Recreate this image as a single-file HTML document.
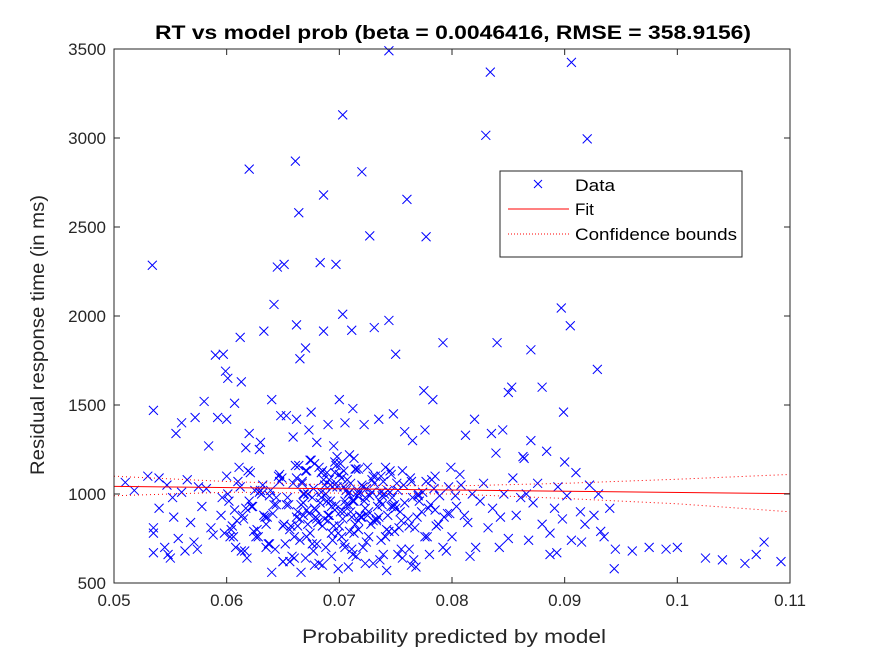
<!DOCTYPE html>
<html><head><meta charset="utf-8"><style>
body{margin:0;background:#fff;}
svg{display:block;font-family:"Liberation Sans",Arial,sans-serif;}
</style></head><body>
<svg id="c" width="875" height="656" viewBox="0 0 875 656">
<rect width="875" height="656" fill="#fff"/>
<g id="plot"></g>
<text x="155" y="39" textLength="596" lengthAdjust="spacingAndGlyphs" font-size="19.5" font-weight="bold" fill="#000">RT vs model prob (beta = 0.0046416, RMSE = 358.9156)</text>
<text x="302" y="643" textLength="304" lengthAdjust="spacingAndGlyphs" font-size="19" fill="#262626">Probability predicted by model</text>
<text transform="translate(44,475) rotate(-90)" textLength="280" lengthAdjust="spacingAndGlyphs" font-size="19" fill="#262626">Residual response time (in ms)</text>
<g>
<rect x="500" y="171" width="242" height="86" fill="#fff" stroke="#262626" stroke-width="1"/>
<path d="M534,180 l8,8 M542,180 l-8,8" stroke="#00f" stroke-width="1"/>
<text x="575" y="191" textLength="40" lengthAdjust="spacingAndGlyphs" font-size="17" fill="#000">Data</text>
<line x1="508" y1="209" x2="569" y2="209" stroke="#f00" stroke-width="1"/>
<text x="575" y="215" font-size="17" fill="#000">Fit</text>
<line x1="508" y1="234" x2="569" y2="234" stroke="#f00" stroke-width="1" stroke-dasharray="1,2"/>
<text x="575" y="240" textLength="162" lengthAdjust="spacingAndGlyphs" font-size="17" fill="#000">Confidence bounds</text>
</g>
</svg>
<script>
const xTicks=[0.05,0.06,0.07,0.08,0.09,0.1,0.11];
const xTickLabels=["0.05","0.06","0.07","0.08","0.09","0.1","0.11"];
const yTicks=[500,1000,1500,2000,2500,3000,3500];
const yTickLabels=["500","1000","1500","2000","2500","3000","3500"];
const fitX=[0.05,0.11];
const fitY=[1043,1002];
const boundX=[0.05,0.06,0.07,0.08,0.09,0.1,0.11];
const upperY=[1100,1070,1050,1045,1060,1083,1110];
const lowerY=[990,1010,1005,1000,975,945,900];
const dataX=[0.0534,0.0535,0.0535,0.0535,0.0620,0.0661,0.0664,0.0651,0.0645,0.0686,0.0683,0.0697,0.0703,0.0720,0.0727,0.0760,0.0777,0.0744,0.0834,0.0830,0.0906,0.0920,0.0642,0.0897,0.0905,0.0703,0.0612,0.0633,0.0662,0.0686,0.0711,0.0744,0.0731,0.0750,0.0670,0.0665,0.0590,0.0597,0.0599,0.0601,0.0792,0.0840,0.0870,0.0853,0.0880,0.0929,0.0899,0.0775,0.0783,0.0820,0.0845,0.0850,0.0863,0.0900,0.0870,0.0835,0.0812,0.0776,0.0765,
0.0555,0.0560,0.0572,0.0580,0.0584,0.0592,0.0600,0.0607,0.0613,0.0620,0.0617,0.0629,0.0630,0.0640,0.0653,0.0648,0.0659,0.0675,0.0662,0.0673,0.0690,0.0700,0.0712,0.0722,0.0735,0.0748,0.0758,0.0680,0.0695,0.0705,
0.0510,0.0518,0.0530,0.0540,0.0547,0.0552,0.0560,0.0565,0.0575,0.0582,0.0540,0.0553,0.0568,0.0578,0.0545,0.0557,0.0571,0.0586,0.0548,0.0563,0.0535,0.0550,0.0574,0.0588,
0.0595,0.0598,0.0602,0.0605,0.0608,0.0611,0.0615,0.0618,0.0622,0.0625,0.0628,0.0632,0.0635,0.0638,0.0641,0.0644,0.0647,0.0650,0.0653,0.0656,0.0659,0.0662,0.0665,0.0668,0.0671,0.0674,0.0677,0.0680,0.0683,0.0686,
0.0596,0.0600,0.0604,0.0609,0.0613,0.0617,0.0621,0.0626,0.0630,0.0634,0.0638,0.0643,0.0647,0.0651,0.0655,0.0660,0.0664,0.0668,0.0672,0.0676,0.0681,0.0685,0.0689,0.0693,0.0697,0.0701,0.0705,0.0709,0.0713,0.0717,
0.0603,0.0607,0.0612,0.0616,0.0620,0.0624,0.0629,0.0633,0.0637,0.0642,0.0646,0.0650,0.0654,0.0658,0.0663,0.0667,0.0671,0.0675,0.0679,0.0684,0.0688,0.0692,0.0696,0.0700,0.0704,0.0708,0.0712,0.0716,0.0720,0.0724,
0.0689,0.0692,0.0695,0.0698,0.0701,0.0704,0.0707,0.0710,0.0713,0.0716,0.0719,0.0722,0.0725,0.0728,0.0731,0.0734,0.0737,0.0740,0.0743,0.0746,0.0749,0.0752,0.0755,0.0758,0.0761,0.0764,0.0767,0.0770,0.0773,0.0776,
0.0690,0.0694,0.0697,0.0702,0.0706,0.0709,0.0714,0.0718,0.0721,0.0726,0.0729,0.0733,0.0738,0.0741,0.0745,0.0750,0.0753,0.0757,0.0762,0.0765,0.0769,0.0774,0.0778,0.0781,0.0785,0.0788,0.0792,0.0796,0.0799,0.0803,
0.0779,0.0782,0.0786,0.0789,0.0793,0.0797,0.0800,0.0804,0.0807,0.0811,0.0814,0.0818,0.0821,0.0825,0.0828,0.0832,0.0836,0.0839,0.0843,0.0846,0.0850,0.0854,0.0857,0.0861,0.0864,0.0868,0.0872,0.0876,0.0880,0.0884,
0.0887,0.0891,0.0894,0.0898,0.0902,0.0906,0.0910,0.0914,0.0918,0.0922,0.0926,0.0930,0.0935,0.0940,0.0945,0.0960,0.0975,0.0990,0.1000,0.1025,0.1040,0.1060,0.1070,0.1077,0.1092,0.0887,0.0893,0.0915,0.0932,0.0944,
0.0640,0.0656,0.0670,0.0685,0.0699,0.0715,0.0730,0.0742,0.0756,0.0768,0.0650,0.0666,0.0678,0.0693,0.0708,0.0723,0.0736,0.0752,0.0764,0.0780,0.0635,0.0660,0.0682,0.0711,0.0739,0.0766,0.0795,0.0816,0.0842,0.0866,
0.0662,0.0665,0.0668,0.0671,0.0674,0.0677,0.0679,0.0682,0.0685,0.0688,0.0691,0.0694,0.0697,0.0700,0.0703,0.0706,0.0709,0.0712,0.0715,0.0718,0.0721,0.0724,0.0727,0.0730,0.0733,0.0736,0.0739,0.0742,0.0745,0.0748,
0.0663,0.0667,0.0670,0.0673,0.0676,0.0680,0.0684,0.0687,0.0690,0.0693,0.0696,0.0699,0.0702,0.0705,0.0708,0.0711,0.0714,0.0717,0.0720,0.0723,0.0726,0.0729,0.0732,0.0735,0.0738,0.0741,0.0744,0.0747,0.0751,0.0754,
0.0601,0.0606,0.0610,0.0614,0.0619,0.0623,0.0627,0.0631,0.0636,0.0639,0.0644,0.0649,0.0652,0.0657,0.0661,0.0669,0.0678,0.0687,0.0696,0.0704,0.0713,0.0725,0.0737,0.0746,0.0755,0.0763,0.0771,0.0784,0.0798,0.0808,
0.0666,0.0672,0.0678,0.0684,0.0691,0.0698,0.0704,0.0710,0.0717,0.0723,0.0730,0.0737,0.0743,0.0749,0.0756,0.0762,0.0770,0.0777,0.0785,0.0791];
const dataY=[2285,1470,810,670,2825,2870,2580,2290,2275,2680,2300,2290,3130,2810,2450,2655,2445,3490,3370,3015,3425,2995,2065,2045,1945,2010,1880,1915,1950,1915,1920,1975,1935,1785,1820,1760,1780,1785,1690,1650,1850,1850,1810,1600,1600,1700,1460,1580,1530,1420,1360,1570,1210,1180,1300,1340,1330,1360,1300,
1340,1400,1430,1520,1270,1430,1420,1510,1630,1340,1260,1250,1290,1530,1440,1440,1320,1460,1420,1360,1390,1530,1480,1390,1420,1450,1350,1290,1270,1400,
1065,1020,1100,1090,1050,980,1010,1080,1040,1030,920,870,840,930,700,750,730,810,660,680,780,640,690,770,
880,780,960,820,700,1150,860,640,930,1020,760,1050,830,720,890,980,1110,620,940,800,1060,870,740,1000,910,1190,680,860,950,1080,
980,1100,800,850,680,920,1120,760,1020,870,990,690,1070,830,940,760,1160,880,1000,720,840,1130,960,780,1060,900,700,1010,1200,850,
760,910,1040,680,960,790,1010,880,720,940,1100,820,980,650,900,1070,760,1190,870,980,700,1050,910,820,1130,940,660,990,870,1030,
1120,960,820,1040,1170,720,1080,900,780,1010,870,960,1150,830,1060,930,740,1000,880,1110,790,1020,690,950,860,1070,810,990,900,760,
880,1040,1160,760,940,1220,830,1010,700,900,1080,860,990,760,1130,920,810,1050,690,980,870,1010,760,940,1100,830,700,890,1150,990,
920,1080,820,990,870,1040,760,930,1110,880,840,1000,700,960,1060,810,920,1230,870,1000,750,1090,880,980,1200,740,950,1060,830,1240,
780,920,1040,860,990,740,1120,900,830,1050,880,1000,760,920,690,680,700,690,700,640,630,610,660,730,620,660,670,730,790,
580,560,620,640,600,580,650,610,570,640,590,620,560,600,650,590,610,630,660,600,660,700,640,610,690,660,630,680,650,700,
1000,1090,860,950,1130,780,1030,910,1150,820,1000,1080,740,940,1110,860,1020,790,960,1140,880,1040,730,990,1100,850,960,1070,800,1010,
930,820,1060,1130,890,980,720,1120,1050,850,930,1180,780,1090,960,1000,870,1140,800,1050,920,760,1010,1100,870,940,1150,790,980,1060,
900,1000,760,1070,880,1130,930,800,1000,870,1020,940,1090,720,820,1160,1000,920,860,1120,1040,960,880,1010,930,850,1090,960,1030,890,
1050,940,830,1170,1010,880,1210,900,1060,1140,980,850,1100,1020,940,1130,820,1000,1070,910];
const X0=114,X1=790,Y0=583,Y1=49;
const sx=v=>X0+(v-0.05)/(0.11-0.05)*(X1-X0);
const sy=v=>Y0-(v-500)/(3500-500)*(Y0-Y1);
const NS="http://www.w3.org/2000/svg";
const g=document.getElementById('plot');
function mk(t,a){const e=document.createElementNS(NS,t);for(const k in a)e.setAttribute(k,a[k]);return e;}
const bg=mk('rect',{x:X0,y:Y1,width:X1-X0,height:Y0-Y1,fill:'#fff'});


g.appendChild(bg);
for(let i=0;i<dataX.length&&i<dataY.length;i++){
  const x=sx(dataX[i]),y=sy(dataY[i]);
  const p=mk('path',{d:`M${x-4.5},${y-4.5}L${x+4.5},${y+4.5}M${x+4.5},${y-4.5}L${x-4.5},${y+4.5}`,stroke:'#00f','stroke-width':1,fill:'none'});
  
  
  g.appendChild(p);
}
const fit=mk('line',{x1:sx(fitX[0]),y1:sy(fitY[0]),x2:sx(fitX[1]),y2:sy(fitY[1]),stroke:'#f00','stroke-width':1});


g.appendChild(fit);
[upperY,lowerY].forEach((arr,j)=>{
  const pl=mk('polyline',{points:boundX.map((v,i)=>sx(v)+','+sy(arr[i])).join(' '),stroke:'#f00','stroke-width':1,'stroke-dasharray':'1,3',fill:'none'});
  
  
  g.appendChild(pl);
});
const box=mk('rect',{x:X0,y:Y1,width:X1-X0,height:Y0-Y1,stroke:'#262626','stroke-width':1,fill:'none'});


g.appendChild(box);
xTicks.forEach((v,i)=>{
  const x=sx(v);
  const t=mk('line',{x1:x,y1:Y0,x2:x,y2:Y0-6,stroke:'#262626'});
  
  
  g.appendChild(t);
  const tt=mk('line',{x1:x,y1:Y1,x2:x,y2:Y1+6,stroke:'#262626'});
  
  
  g.appendChild(tt);
  const l=mk('text',{x:x,y:Y0+23,'text-anchor':'middle','font-size':17,fill:'#262626'});
  l.textContent=xTickLabels[i];
  
  
  g.appendChild(l);
});
yTicks.forEach((v,i)=>{
  const y=sy(v);
  const t=mk('line',{x1:X0,y1:y,x2:X0+6,y2:y,stroke:'#262626'});
  
  
  g.appendChild(t);
  const t2=mk('line',{x1:X1,y1:y,x2:X1-6,y2:y,stroke:'#262626'});
  
  
  g.appendChild(t2);
  const l=mk('text',{x:X0-8,y:y+6,'text-anchor':'end','font-size':17,fill:'#262626'});
  l.textContent=yTickLabels[i];
  
  
  g.appendChild(l);
});
</script>
</body></html>
